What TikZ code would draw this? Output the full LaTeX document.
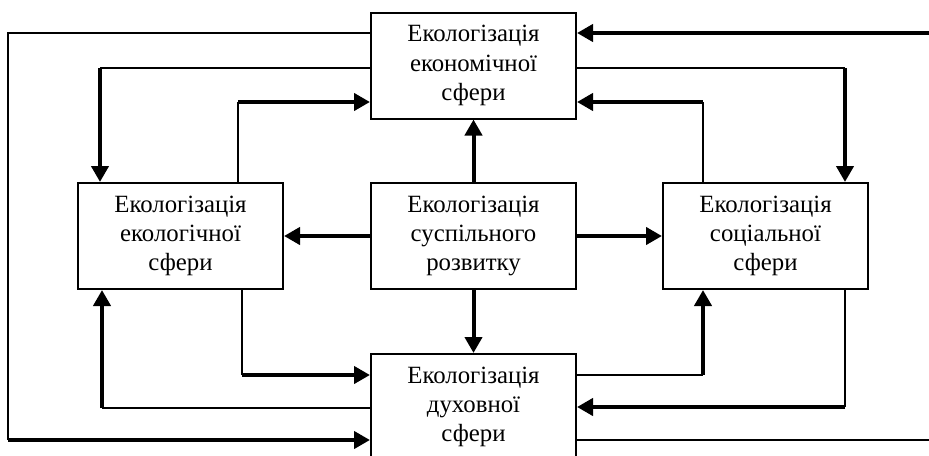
\documentclass[tikz,border=0pt]{standalone}
\usepackage{fontspec}
\setmainfont{Liberation Serif}
\usetikzlibrary{arrows.meta}

\begin{document}
\begin{tikzpicture}[x=0.5pt,y=-0.5pt,
    sphere/.style={draw, line width=1pt, minimum width=102.5pt, minimum height=53pt,
        align=center, inner sep=0pt, font=\fontsize{12.4pt}{14.6pt}\selectfont},
    link/.style={line width=1pt},
    feed/.style={line width=2pt, -{Triangle[length=8pt,width=8.5pt]}}]
    \useasboundingbox (0,0) rectangle (929,455);
    \clip (0,0) rectangle (929,455);

    \node[sphere] (econ) at (473.5,65.5) {Екологізація\\економічної\\сфери};
    \node[sphere] (ecol) at (180.5,236) {Екологізація\\екологічної\\сфери};
    \node[sphere] (susp) at (473.5,236) {Екологізація\\суспільного\\розвитку};
    \node[sphere] (soc) at (765.5,236) {Екологізація\\соціальної\\сфери};
    \node[sphere] (dukh) at (473.5,407) {Екологізація\\духовної\\сфери};

    % bend points
    \coordinate (a1) at (8,33);
    \coordinate (a2) at (8,440);
    \coordinate (r1) at (929,33);
    \coordinate (r2) at (929,440);
    \coordinate (b1) at (100,68);
    \coordinate (b2) at (238,102);
    \coordinate (b3) at (845,68);
    \coordinate (b4) at (703,102);
    \coordinate (c1) at (242,375);
    \coordinate (c2) at (102,408);
    \coordinate (c3) at (703,375);
    \coordinate (c4) at (845,407);

    % from the centre
    \draw[feed] (susp) -- (econ);
    \draw[feed] (susp) -- (ecol);
    \draw[feed] (susp) -- (soc);
    \draw[feed] (susp) -- (dukh);

    % outer loop
    \draw[link] (econ.west |- a1) -- (a1) -- (a2);
    \draw[feed] (a2) -- (a2 -| dukh.west);
    \draw[feed] (r1) -- (r1 -| econ.east);
    \draw[link] (dukh.east |- r2) -- (r2);

    % upper links
    \draw[link] (econ.west |- b1) -- (b1);
    \draw[feed] (b1) -- (b1 |- ecol.north);
    \draw[link] (b2 |- ecol.north) -- (b2);
    \draw[feed] (b2) -- (b2 -| econ.west);
    \draw[link] (econ.east |- b3) -- (b3);
    \draw[feed] (b3) -- (b3 |- soc.north);
    \draw[link] (b4 |- soc.north) -- (b4);
    \draw[feed] (b4) -- (b4 -| econ.east);

    % lower links
    \draw[link] (c1 |- ecol.south) -- (c1);
    \draw[feed] (c1) -- (c1 -| dukh.west);
    \draw[link] (dukh.west |- c2) -- (c2);
    \draw[feed] (c2) -- (c2 |- ecol.south);
    \draw[link] (dukh.east |- c3) -- (c3);
    \draw[feed] (c3) -- (c3 |- soc.south);
    \draw[link] (c4 |- soc.south) -- (c4);
    \draw[feed] (c4) -- (c4 -| dukh.east);
\end{tikzpicture}
\end{document}
